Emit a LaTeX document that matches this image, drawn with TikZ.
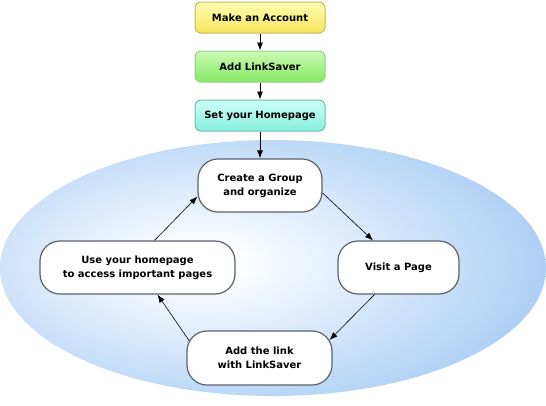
\documentclass[tikz,border=0pt]{standalone}
\usepackage{fontspec}
\setmainfont{DejaVu Sans}
\usetikzlibrary{arrows.meta}
\definecolor{bubbleblue}{RGB}{174,208,245}
\definecolor{taskline}{RGB}{92,98,106}
\pgfdeclareradialshading{bubble}{\pgfpoint{-7bp}{1bp}}{%
	color(0bp)=(white); color(3bp)=(white); color(30bp)=(bubbleblue); color(100bp)=(bubbleblue)}
\tikzset{
	every stage/.style={
		rectangle,
		draw,
		rounded corners=6pt,
		line width=1pt,
		minimum width=130pt,
		minimum height=31pt,
		font=\bfseries\fontsize{10}{14}\selectfont
	},
	stage account/.style={
		draw={rgb,255:red,200;green,182;blue,92},
		top color={rgb,255:red,255;green,252;blue,180},
		bottom color={rgb,255:red,246;green,230;blue,92}
	},
	stage linksaver/.style={
		draw={rgb,255:red,150;green,204;blue,136},
		top color={rgb,255:red,204;green,250;blue,180},
		bottom color={rgb,255:red,134;green,232;blue,100}
	},
	stage homepage/.style={
		draw={rgb,255:red,110;green,190;blue,174},
		top color={rgb,255:red,206;green,255;blue,246},
		bottom color={rgb,255:red,134;green,240;blue,218}
	},
	every task/.style={
		rectangle,
		draw=taskline,
		fill=white,
		rounded corners=20pt,
		line width=1.2pt,
		minimum height=53pt,
		align=center,
		font=\bfseries\fontsize{10}{14}\selectfont
	},
	task create/.style={minimum width=124pt},
	task use/.style={minimum width=195pt},
	task visit/.style={minimum width=121pt},
	task addlink/.style={minimum width=145pt, minimum height=54pt},
}

\begin{document}
\begin{tikzpicture}[x=1pt, y=-1pt, >={Latex[length=8pt,width=6pt]}]
\useasboundingbox (0,0) rectangle (546,405);

% background bubble
\shade [shading=bubble] (273,268) ellipse [x radius=273, y radius=128];

\foreach \m/\l [count=\y] in {account/Make an Account, linksaver/Add LinkSaver, homepage/Set your Homepage}
	\node [every stage/.try, stage \m/.try] (stage-\m) at (260,{17.5+49*(\y-1)}) {\l};

\foreach \m/\x/\y/\l in {create/260/185.5/{Create a Group\\and organize},
		use/137.5/267.5/{Use your homepage\\to access important pages},
		visit/398.5/267.5/{Visit a Page},
		addlink/259.5/358/{Add the link\\with LinkSaver}}
	\node [every task/.try, task \m/.try] (task-\m) at (\x,\y) {\l};

\foreach \a/\b in {account/linksaver, linksaver/homepage}
	\draw [->, line width=0.8pt] (stage-\a) -- (stage-\b);
\draw [->, line width=0.8pt] (stage-homepage) -- (task-create);

% the cycle
\draw [->, line width=0.6pt] ([yshift=-7.5pt]task-create.east) -- ([xshift=-25.5pt]task-visit.north);
\draw [->, line width=0.6pt] ([xshift=-24pt]task-visit.south) -- ([xshift=-3pt,yshift=18pt]task-addlink.east);
\draw [->, line width=0.6pt] ([xshift=3pt,yshift=17pt]task-addlink.west) -- ([xshift=20pt]task-use.south);
\draw [->, line width=0.6pt] ([xshift=17pt]task-use.north) -- ([yshift=-11pt]task-create.west);

\end{tikzpicture}
\end{document}
